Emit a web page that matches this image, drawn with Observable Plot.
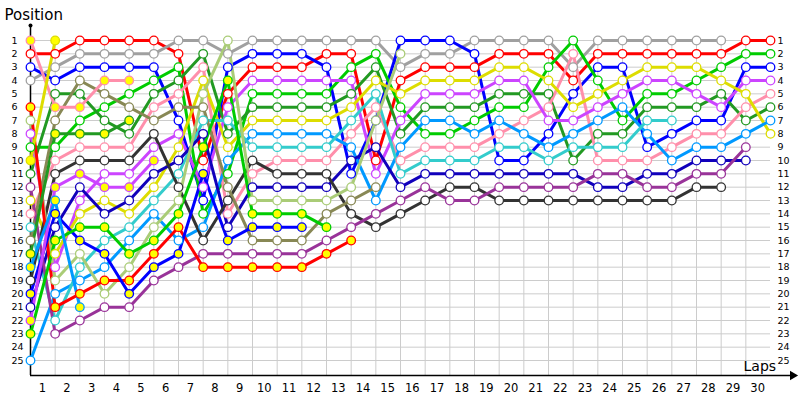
<!DOCTYPE html>
<html><head><meta charset="utf-8">
<script src="https://cdn.jsdelivr.net/npm/d3@7"></script>
<script src="https://cdn.jsdelivr.net/npm/@observablehq/plot@0.6"></script>
<style>body{margin:0;background:#fff}</style>
</head><body><div id="chart"></div>
<script>
const laps = d3.range(0, 31);
const tickLaps = d3.range(1, 31);
const positions = d3.range(1, 26);
const _ = null;

// positions per lap (lap 0 = start grid)
const redW = [2,2,1,1,1,1,2,10,5,3,3,3,2,2,10,4,3,3,3,2,2,2,4,2,2,2,2,2,2,1,1];
const grayW = [4,3,2,2,2,2,1,1,2,1,1,1,1,1,1,3,2,2,1,1,1,1,3,1,1,1,1,1,1];
const blueW = [3,4,3,3,3,3,7,13,3,2,2,2,3,11,7,1,1,1,2,10,10,8,5,3,3,9,8,7,7,3,3];
const greenW = [9,9,7,6,5,4,3,14,11,5,5,5,5,3,2,6,8,8,7,6,6,3,1,4,7,5,5,4,3,2,2];
const dkgreenW = [11,5,5,7,8,5,4,2,8,6,6,6,6,5,3,8,6,6,6,5,5,5,10,8,8,6,6,6,5,7,6];
const pinkW = [14,10,9,9,9,6,5,3,14,11,10,10,10,8,6,10,9,9,9,8,7,6,2,10,10,10,9,8,8,6,5];
const violetW = [8,18,13,11,11,9,8,12,6,4,4,4,4,4,11,7,5,5,5,4,4,7,7,6,5,4,4,5,6,4,4];
const yellowW = [13,17,14,13,14,12,9,4,9,7,7,7,7,6,4,5,4,4,4,3,3,4,6,5,4,3,3,3,4,5,8];
const ltblueW = [25,20,19,18,16,14,16,15,10,8,8,8,8,9,13,9,7,7,8,7,8,9,8,7,6,8,10,9,9,8,7];
const cyanW = [15,22,18,16,15,13,11,7,7,9,9,9,9,7,5,11,10,10,10,9,9,10,9,9,9,7,7];
const dkblueW = [21,15,12,14,13,11,10,8,15,12,12,12,12,10,9,12,11,11,11,11,11,11,11,12,12,11,11,10,10,10];
const blackW = [19,11,10,10,10,8,12,16,13,10,11,11,11,14,15,14,13,12,12,13,13,13,13,13,13,13,13,12,12];
const ltgreenW = [7,19,17,20,18,15,13,5,1,13,13,13,13,12,7,2];
const oliveW = [16,7,4,5,6,7,6,6,12,16,16,16,14,13,12];
const purpleW = [12,23,22,21,21,19,18,17,17,17,17,17,16,15,14,13,12,13,13,12,12,12,12,11,11,12,12,11,11,9];
const redY = [6,21,20,19,19,17,15,18,18,18,18,18,17,16];
const blueY = [20,14,16,17,20,18,17,11,16,15,15,15];
const greenY = [23,16,15,15,17,16,14,9,4,14,14,14,15];
const violetY = [22,12,11,12,12,10];
const dkgreenY = [17,8,8,8,7];
const pinkY = [1,6,6,4,4];
const yellowY = [10,1];
const ltblueY = [18,13,21];

const seriesValues = [redW, grayW, blueW, greenW, dkgreenW, pinkW, violetW, yellowW, ltblueW, cyanW, dkblueW, blackW, ltgreenW, oliveW, purpleW, redY, blueY, greenY, violetY, dkgreenY, pinkY, yellowY, ltblueY];
const seriesColors = ["#ff0000","#a0a0a0","#0000ff","#00cc00","#229922","#ff8fab","#cc44ff","#dddd00","#0099ff","#33cccc","#1100bb","#333333","#aacc77","#888855","#993399","#ff0000","#0000ff","#00cc00","#cc44ff","#229922","#ff8fab","#dddd00","#0099ff"];
const seriesFills = ["#ffffff","#ffffff","#ffffff","#ffffff","#ffffff","#ffffff","#ffffff","#ffffff","#ffffff","#ffffff","#ffffff","#ffffff","#ffffff","#ffffff","#ffffff","#ffff00","#ffff00","#ffff00","#ffff00","#ffff00","#ffff00","#ffff00","#ffff00"];

const rows = seriesValues.flatMap((vals, k) => vals.map((p, i) => ({lap: laps[i], pos: p, id: k, color: seriesColors[k], fill: seriesFills[k]})).filter(d => d.pos != null));

const font = "DejaVu Sans, Verdana, sans-serif";
const chart = Plot.plot({
  width: 800, height: 400, margin: 0,
  x: {domain: [0, 30], range: [30, 770], axis: null},
  y: {domain: [1, 25], range: [40, 360], axis: null},
  color: {type: "identity"},
  style: {background: "#fff", fontFamily: font},
  marks: [
    Plot.ruleY(positions, {y: d => d, x1: 0, x2: 30, stroke: "#cccccc", strokeWidth: 1}),
    Plot.ruleX(d3.range(1, 30), {x: d => d, y1: 1, y2: 26.125, stroke: "#cccccc", strokeWidth: 1}),
    Plot.ruleX([0], {x: 0, y1: -0.125, y2: 26.125, stroke: "#000", strokeWidth: 1.5}),
    Plot.ruleY([26.125], {y: d => d, x1: 0, x2: 30.85, stroke: "#000", strokeWidth: 1.5}),
    Plot.dot([0], {x: 0, y: -0.125, r: 2, fill: "#000", stroke: null}),
    Plot.dot([0], {x: 30.9, y: 26.125, symbol: "triangle", rotate: 90, r: 3.5, fill: "#000", stroke: null}),
    Plot.line(rows, {x: "lap", y: "pos", z: "id", stroke: "color", strokeWidth: 3, curve: "linear"}),
    Plot.dot(rows, {x: "lap", y: "pos", r: 4.3, fill: "fill", stroke: "color", strokeWidth: 1.3}),
    Plot.text(positions, {x: 0, y: d => d, dx: -19, text: d => String(d), textAnchor: "start", fontSize: 9.5, fill: "#000"}),
    Plot.text(positions, {x: 30, y: d => d, dx: 7, text: d => String(d), textAnchor: "start", fontSize: 9.5, fill: "#000"}),
    Plot.text(tickLaps, {x: d => d - 0.52, y: 26.125, dy: 13, text: d => String(d), fontSize: 11.5, fill: "#000"}),
    Plot.text(["Position"], {x: 0, y: -0.125, dx: -26, dy: -10, text: d => d, textAnchor: "start", fontSize: 15, fill: "#000"}),
    Plot.text(["Laps"], {x: 30, y: 26.125, dx: -27, dy: -9, text: d => d, textAnchor: "start", fontSize: 14, fill: "#000"})
  ]
});
document.getElementById("chart").appendChild(chart);
</script>
</body></html>
